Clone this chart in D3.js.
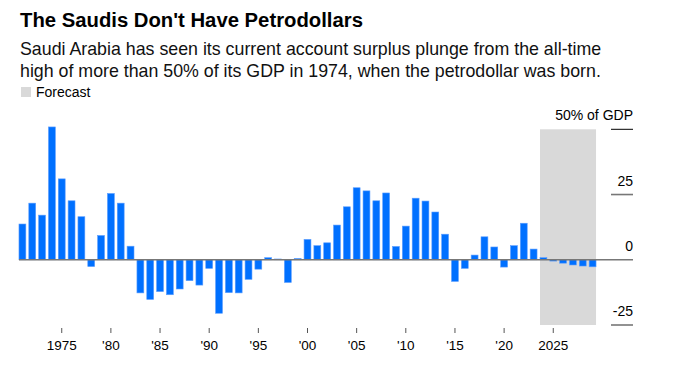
<!DOCTYPE html>
<html>
<head>
<meta charset="utf-8">
<script src="https://cdn.jsdelivr.net/npm/d3@7"></script>
<style>
  html, body { margin: 0; padding: 0; background: #fff; }
  svg { display: block; }
  text { font-family: "Liberation Sans", Arial, sans-serif; }
</style>
</head>
<body>
<svg id="chart" width="688" height="367"></svg>
<script>
const title = "The Saudis Don't Have Petrodollars";
const subtitleLines = [
  "Saudi Arabia has seen its current account surplus plunge from the all-time",
  "high of more than 50% of its GDP in 1974, when the petrodollar was born."
];
const legendLabel = "Forecast";

const years = [1971,1972,1973,1974,1975,1976,1977,1978,1979,1980,
  1981,1982,1983,1984,1985,1986,1987,1988,1989,1990,
  1991,1992,1993,1994,1995,1996,1997,1998,1999,2000,
  2001,2002,2003,2004,2005,2006,2007,2008,2009,2010,
  2011,2012,2013,2014,2015,2016,2017,2018,2019,2020,
  2021,2022,2023,2024,2025,2026,2027,2028,2029];
const values = [13.7,21.7,17.1,50.9,31.0,22.6,16.5,-2.6,9.3,25.4,
  21.7,5.2,-12.7,-15.2,-12.2,-13.4,-11.2,-8.0,-9.7,-3.3,
  -20.5,-12.6,-12.7,-7.5,-3.6,0.8,0.3,-8.7,0.5,7.8,
  5.4,6.5,13.3,20.3,27.6,26.4,22.6,25.6,5.1,12.9,
  23.6,22.5,18.3,9.8,-8.3,-3.3,1.8,8.8,4.9,-2.8,
  5.4,14.0,4.1,0.8,-0.5,-1.3,-2.0,-2.4,-2.7];
const forecastYears = [2024, 2029];
const xTickValues = [1975,1980,1985,1990,1995,2000,2005,2010,2015,2020,2025];
const xTickLabels = ["1975","'80","'85","'90","'95","'00","'05","'10","'15","'20","2025"];
const yTickValues = [50, 25, 0, -25];
const yTickLabels = ["50% of GDP", "25", "0", "-25"];

const svg = d3.select("#chart");

// Header
svg.append("text").attr("x", 20).attr("y", 27)
  .attr("font-size", 20.3).attr("font-weight", "bold").attr("fill", "#000")
  .text(title);
svg.selectAll("text.sub").data(subtitleLines).join("text")
  .attr("class", "sub").attr("x", 20).attr("y", (d, i) => 55 + i * 22)
  .attr("font-size", 17.8).attr("fill", "#111").text(d => d);
svg.append("rect").attr("x", 21).attr("y", 87).attr("width", 10).attr("height", 10).attr("fill", "#d9d9d9");
svg.append("text").attr("x", 36).attr("y", 97).attr("font-size", 14).attr("fill", "#000").text(legendLabel);

// Scales
const x = d3.scaleBand().domain(years).range([17.5, 597.5]).paddingInner(0.3).paddingOuter(0.15);
const y = d3.scaleLinear().domain([-25, 50]).range([325, 129.3]);
const rightEdge = 633;

// Forecast band
svg.append("rect")
  .attr("x", x(forecastYears[0]))
  .attr("width", x(forecastYears[1]) + x.bandwidth() - x(forecastYears[0]))
  .attr("y", y(50)).attr("height", y(-25) - y(50))
  .attr("fill", "#d9d9d9");

// Bars
svg.append("g").selectAll("rect").data(years.map((yr, i) => ({yr, v: values[i]}))).join("rect")
  .attr("x", d => x(d.yr))
  .attr("width", x.bandwidth())
  .attr("y", d => y(Math.max(0, d.v)))
  .attr("height", d => Math.abs(y(d.v) - y(0)))
  .attr("fill", "#0070ff")
  .attr("stroke", "#5b9dff").attr("stroke-width", 0.6);

// Y gridlines (short) and labels
const yg = svg.append("g");
yTickValues.forEach((v, i) => {
  if (v !== 0) {
    yg.append("line").attr("x1", 611).attr("x2", rightEdge)
      .attr("y1", y(v)).attr("y2", y(v))
      .attr("stroke", v === 50 ? "#000" : "#777").attr("stroke-width", v === 50 ? 1 : 1.6);
  }
  yg.append("text").attr("x", rightEdge).attr("y", y(v) - 9)
    .attr("text-anchor", "end").attr("font-size", 14).attr("fill", "#000")
    .text(yTickLabels[i]);
});

// Zero line
svg.append("line").attr("x1", x(years[0])).attr("x2", rightEdge)
  .attr("y1", y(0)).attr("y2", y(0)).attr("stroke", "#777").attr("stroke-width", 1.6);

// X axis
const xAxis = d3.axisBottom(x).tickValues(xTickValues).tickSize(5).tickPadding(7)
  .tickFormat(d => xTickLabels[xTickValues.indexOf(d)]);
const gx = svg.append("g").attr("transform", `translate(0,${328})`).call(xAxis);
gx.select(".domain").remove();
gx.selectAll(".tick line").attr("stroke", "#555");
gx.selectAll(".tick text").attr("font-size", 13.5).attr("fill", "#000")
  .attr("font-family", "Liberation Sans, Arial, sans-serif");
</script>
</body>
</html>
